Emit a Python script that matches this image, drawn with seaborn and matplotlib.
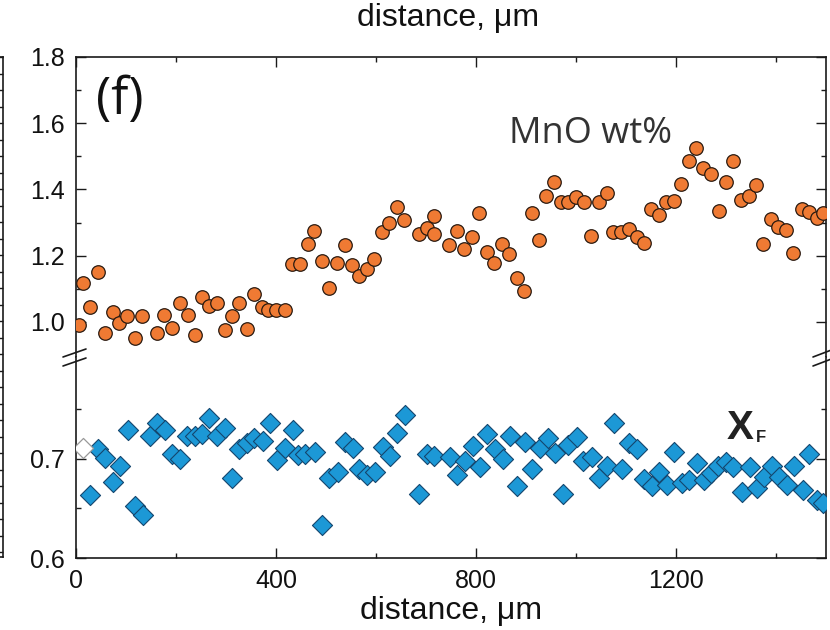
import numpy as np
import pandas as pd
import matplotlib
matplotlib.use("Agg")
import matplotlib.pyplot as plt
from matplotlib.lines import Line2D
from matplotlib.ticker import MultipleLocator, FixedLocator
import seaborn as sns

# MnO (wt%) profile along the traverse
mno_dist = [6, 14, 28, 44, 58, 74, 86, 102, 118, 132, 162, 176, 192, 208, 224, 238,
            252, 266, 282, 298, 312, 326, 342, 356, 372, 384, 400, 418, 432, 448, 464,
            476, 492, 506, 522, 538, 552, 566, 582, 596, 612, 626, 642, 656, 686, 702,
            716, 716, 746, 762, 776, 792, 806, 822, 836, 852, 866, 882, 896, 912, 926,
            940, 956, 970, 984, 1000, 1016, 1030, 1046, 1062, 1074, 1090, 1106, 1122,
            1136, 1150, 1166, 1180, 1196, 1210, 1226, 1240, 1254, 1270, 1286, 1300,
            1314, 1330, 1346, 1360, 1374, 1390, 1404, 1420, 1434, 1452, 1466, 1482, 1494]
mno_wt = [0.991, 1.118, 1.045, 1.152, 0.967, 1.030, 0.997, 1.018, 0.952, 1.018, 0.967,
          1.021, 0.982, 1.058, 1.021, 0.961, 1.076, 1.048, 1.058, 0.976, 1.018, 1.058,
          0.979, 1.085, 1.045, 1.036, 1.036, 1.036, 1.176, 1.176, 1.236, 1.276, 1.185,
          1.103, 1.179, 1.233, 1.173, 1.139, 1.161, 1.191, 1.270, 1.300, 1.348, 1.309,
          1.264, 1.285, 1.321, 1.264, 1.233, 1.276, 1.221, 1.255, 1.330, 1.212, 1.179,
          1.236, 1.206, 1.133, 1.094, 1.330, 1.248, 1.379, 1.421, 1.361, 1.361, 1.376,
          1.361, 1.258, 1.361, 1.388, 1.273, 1.270, 1.282, 1.255, 1.239, 1.342, 1.324,
          1.361, 1.364, 1.415, 1.485, 1.524, 1.464, 1.448, 1.336, 1.421, 1.485, 1.367,
          1.379, 1.412, 1.236, 1.312, 1.288, 1.279, 1.209, 1.342, 1.333, 1.315, 1.330]

# X_F profile along the same traverse
xf_dist = [28, 44, 58, 74, 88, 104, 118, 134, 148, 162, 178, 192, 208, 222, 238, 252,
           266, 282, 298, 312, 326, 342, 356, 374, 388, 402, 418, 434, 444, 458, 478,
           492, 506, 524, 538, 554, 566, 582, 598, 614, 628, 642, 658, 686, 702, 716,
           748, 762, 778, 794, 808, 822, 838, 854, 868, 882, 898, 912, 928, 944, 958,
           974, 984, 1002, 1014, 1032, 1046, 1062, 1076, 1092, 1106, 1122, 1136, 1152,
           1166, 1182, 1196, 1212, 1226, 1242, 1256, 1270, 1284, 1300, 1314, 1332,
           1348, 1362, 1376, 1392, 1406, 1422, 1436, 1454, 1466, 1482, 1494]
xf_val = [0.664, 0.710, 0.701, 0.677, 0.693, 0.729, 0.653, 0.643, 0.723, 0.736, 0.729,
          0.705, 0.700, 0.723, 0.723, 0.725, 0.741, 0.723, 0.731, 0.681, 0.710, 0.716,
          0.721, 0.718, 0.736, 0.699, 0.711, 0.729, 0.704, 0.705, 0.707, 0.633, 0.681,
          0.687, 0.717, 0.711, 0.690, 0.684, 0.687, 0.712, 0.703, 0.726, 0.744, 0.665,
          0.705, 0.703, 0.702, 0.684, 0.698, 0.713, 0.692, 0.725, 0.710, 0.700, 0.723,
          0.673, 0.717, 0.690, 0.711, 0.721, 0.706, 0.665, 0.714, 0.722, 0.698, 0.702,
          0.681, 0.693, 0.736, 0.690, 0.716, 0.710, 0.680, 0.673, 0.687, 0.674, 0.707,
          0.676, 0.679, 0.696, 0.679, 0.686, 0.693, 0.697, 0.692, 0.667, 0.692, 0.671,
          0.682, 0.693, 0.682, 0.674, 0.693, 0.669, 0.705, 0.659, 0.656]

# rim analysis drawn as an open symbol
rim_dist = [14]
rim_xf = [0.711]

x_ticks = [0, 400, 800, 1200]
mno_ticks = [1.0, 1.2, 1.4, 1.6, 1.8]
xf_ticks = [0.6, 0.7]

mno_df = pd.DataFrame({"distance": mno_dist, "MnO": mno_wt})
xf_df = pd.DataFrame({"distance": xf_dist, "XF": xf_val})
rim_df = pd.DataFrame({"distance": rim_dist, "XF": rim_xf})

sns.set_theme(style="white")
plt.rcParams["font.family"] = ["Liberation Sans", "DejaVu Sans"]

W, H = 830, 630
fig = plt.figure(figsize=(W / 100, H / 100), dpi=100)
fig.patch.set_facecolor("white")


def fx(px):
    return px / W


def fy(py):
    return 1 - py / H


spine_c = "#1a1a1a"
ax_left, ax_right = 76, 826
ax_top = fig.add_axes([fx(ax_left), fy(357), fx(ax_right - ax_left), (357 - 57) / H])
ax_bot = fig.add_axes([fx(ax_left), fy(558), fx(ax_right - ax_left), (558 - 357) / H])

orange = "#EF7A33"
blue = "#1C98D6"

sns.scatterplot(data=mno_df, x="distance", y="MnO", ax=ax_top, marker="o", s=95,
                color=orange, edgecolor="#2a1a10", linewidth=0.9, zorder=3, legend=False)
sns.scatterplot(data=xf_df, x="distance", y="XF", ax=ax_bot, marker="D", s=105,
                color=blue, edgecolor="#14466e", linewidth=0.8, zorder=3, legend=False)
sns.scatterplot(data=rim_df, x="distance", y="XF", ax=ax_bot, marker="D", s=105,
                color="white", edgecolor="#999999", linewidth=0.9, zorder=3, legend=False)

for ax in (ax_top, ax_bot):
    ax.set_xlim(0, 1500)
    ax.set_facecolor("white")
    ax.set_xlabel("")
    ax.set_ylabel("")
    for sp in ax.spines.values():
        sp.set_color(spine_c)
        sp.set_linewidth(1.2)
    ax.xaxis.set_major_locator(FixedLocator(x_ticks))
    ax.xaxis.set_minor_locator(MultipleLocator(200))
    ax.tick_params(which="both", direction="in", color=spine_c, width=1.0,
                   left=True, right=True, labelsize=18, labelcolor="#111111", pad=8)
    ax.tick_params(which="major", length=7)
    ax.tick_params(which="minor", length=3.5)

ax_top.set_ylim(0.894, 1.8)
ax_top.yaxis.set_major_locator(FixedLocator(mno_ticks))
ax_top.yaxis.set_minor_locator(FixedLocator([1.1, 1.3, 1.5, 1.7]))
ax_top.set_yticklabels([f"{v:.1f}" for v in mno_ticks])
ax_top.spines["bottom"].set_visible(False)
ax_top.tick_params(axis="x", which="both", top=True, bottom=False, labelbottom=False)

ax_bot.set_ylim(0.6, 0.803)
ax_bot.yaxis.set_major_locator(FixedLocator(xf_ticks))
ax_bot.yaxis.set_minor_locator(FixedLocator([0.65, 0.75]))
ax_bot.set_yticklabels([f"{v:.1f}" for v in xf_ticks])
ax_bot.spines["top"].set_visible(False)
ax_bot.tick_params(axis="x", which="both", top=False, bottom=True)
ax_bot.set_xticklabels([str(v) for v in x_ticks])
ax_bot.set_xlabel("distance, μm", fontsize=23, color="#111111", labelpad=2)

# axis-break marks on both vertical spines
for x0, x1 in ((63, 86), (813, 834)):
    for yc in (353, 362):
        fig.add_artist(Line2D([fx(x0), fx(x1)], [fy(yc + 4), fy(yc - 4)],
                              color=spine_c, lw=1.2))

# panel annotations
fig.text(fx(96), fy(114), "(f)", fontsize=37, family=["Open Sans", "DejaVu Sans"],
         color="#111111", va="baseline", ha="left")
fig.text(fx(509), fy(143), "MnO wt%", fontsize=26, family=["Open Sans", "DejaVu Sans"],
         color="#333333", va="baseline", ha="left")
fig.text(fx(727), fy(439), "X", fontsize=29, fontweight="bold", color="#222222",
         va="baseline", ha="left")
fig.text(fx(756), fy(442), "F", fontsize=12, fontweight="bold", color="#222222",
         va="baseline", ha="left")

# axis title of the panel above
fig.text(fx(448), fy(26), "distance, μm", fontsize=23, color="#111111",
         ha="center", va="baseline")

# right edge of the neighbouring panel on the left
ax_nb = fig.add_axes([fx(-100), fy(557), fx(103), (557 - 57) / H])
ax_nb.set_xlim(0, 1)
ax_nb.set_ylim(557, 57)
for name, sp in ax_nb.spines.items():
    sp.set_visible(name in ("right", "top", "bottom"))
    sp.set_color(spine_c)
    sp.set_linewidth(1.2)
ax_nb.set_facecolor("white")
ax_nb.yaxis.tick_right()
ax_nb.set_yticks(np.arange(57, 557, 16.5))
ax_nb.tick_params(axis="y", direction="in", length=4, width=1.0, color=spine_c,
                  labelright=False, right=True)
ax_nb.set_xticks([])

fig.savefig("out.png", dpi=100, facecolor="white")
